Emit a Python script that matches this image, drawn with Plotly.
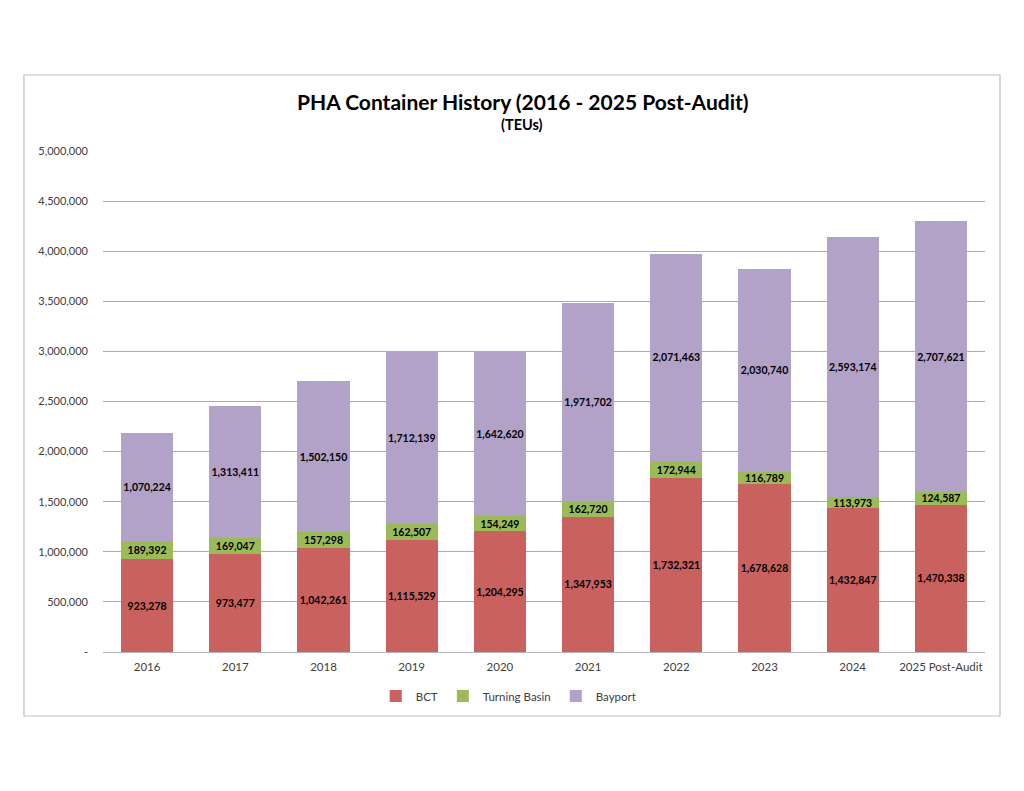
import plotly.graph_objects as go

years = ["2016", "2017", "2018", "2019", "2020", "2021", "2022", "2023", "2024", "2025 Post-Audit"]
bct = [923278, 973477, 1042261, 1115529, 1204295, 1347953, 1732321, 1678628, 1432847, 1470338]
turning_basin = [189392, 169047, 157298, 162507, 154249, 162720, 172944, 116789, 113973, 124587]
bayport = [1070224, 1313411, 1502150, 1712139, 1642620, 1971702, 2071463, 2030740, 2593174, 2707621]

y_ticks = [0, 500000, 1000000, 1500000, 2000000, 2500000, 3000000, 3500000, 4000000, 4500000, 5000000]
y_ticktext = ["-"] + [f"{v:,}" for v in y_ticks[1:]]

FONT = "Lato, 'Open Sans', sans-serif"

series = [
    ("BCT", bct, "#C9625F"),
    ("Turning Basin", turning_basin, "#9BBB59"),
    ("Bayport", bayport, "#B2A2C8"),
]

fig = go.Figure()
for name, vals, color in series:
    fig.add_trace(go.Bar(
        name=name, x=years, y=vals,
        marker=dict(color=color, line=dict(width=0)),
        text=[f"{v:,}" for v in vals],
        textposition="inside", insidetextanchor="middle",
        constraintext="none", textangle=0,
        textfont=dict(family=FONT, size=10.5, color="#000000", weight="bold"),
        hoverinfo="x+y+name",
    ))

# chart border
fig.add_shape(type="rect", xref="paper", yref="paper",
              x0=-0.0896, x1=1.017, y0=-0.1277, y1=1.1517,
              line=dict(color="#BFBFBF", width=1.2), layer="below")

fig.add_annotation(text="<b>PHA Container History (2016 - 2025 Post-Audit)</b>",
                   xref="paper", yref="paper", x=0.476, y=1.0998,
                   showarrow=False, font=dict(family=FONT, size=21, color="#000000"),
                   xanchor="center", yanchor="middle")
fig.add_annotation(text="<b>(TEUs)</b>",
                   xref="paper", yref="paper", x=0.475, y=1.052,
                   showarrow=False, font=dict(family=FONT, size=14.5, color="#000000"),
                   xanchor="center", yanchor="middle")

fig.update_layout(
    width=1024, height=791,
    margin=dict(l=95, r=47, t=143, b=147),
    barmode="stack", bargap=0.41,
    paper_bgcolor="white", plot_bgcolor="white",
    font=dict(family=FONT, size=11, color="#404040"),
    showlegend=True,
    legend=dict(orientation="h", x=0.46, xanchor="center", y=-0.088, yanchor="middle",
                font=dict(family=FONT, size=11.5, color="#404040"),
                itemwidth=30, traceorder="normal", tracegroupgap=0),
    xaxis=dict(showgrid=False, showline=True, linecolor="#B3B3B3", linewidth=1,
               ticks="", tickfont=dict(size=11.5, color="#404040"), ticklabelstandoff=4),
    yaxis=dict(range=[0, 5000000], tickvals=y_ticks, ticktext=y_ticktext,
               showgrid=True, gridcolor="#ABABAB", gridwidth=1,
               zeroline=False, showline=False, ticks="",
               tickfont=dict(size=11, color="#404040"), ticklabelstandoff=14),
)

fig.write_html("out.html")
